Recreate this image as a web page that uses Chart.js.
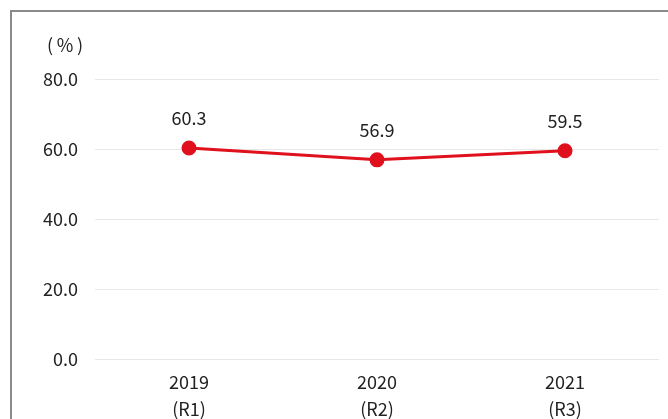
<!DOCTYPE html>
<html>
<head>
<meta charset="utf-8">
<script src="https://cdn.jsdelivr.net/npm/chart.js@4"></script>
<style>
  html, body { margin: 0; padding: 0; background: #fff; overflow: hidden; }
  #frame { position: absolute; left: 10px; top: 10px; width: 700px; height: 450px; border: 2px solid #8a8a8a; }
  #wrap { position: absolute; left: 0; top: 0; width: 668px; height: 419px; }
</style>
</head>
<body>
<div id="frame"></div>
<div id="wrap"><canvas id="chart"></canvas></div>
<script>
const years = ['2019', '2020', '2021'];
const eras = ['(R1)', '(R2)', '(R3)'];
const rates = [60.3, 56.9, 59.5];
const yTicks = [0, 20, 40, 60, 80];

const textColor = '#222';
const fontFamily = '"Noto Sans CJK JP", "Noto Sans", sans-serif';

// value labels above each point
const valueLabels = {
  id: 'valueLabels',
  afterDatasetsDraw(chart) {
    const ctx = chart.ctx;
    const meta = chart.getDatasetMeta(0);
    ctx.save();
    ctx.fillStyle = textColor;
    ctx.font = '18px ' + fontFamily;
    ctx.textAlign = 'center';
    ctx.textBaseline = 'middle';
    meta.data.forEach((pt, i) => {
      ctx.fillText(rates[i].toFixed(1), pt.x, pt.y - 30);
    });
    // unit label
    ctx.fillText('(\u2009%\u2009)', 65, 45);
    ctx.restore();
  }
};

new Chart(document.getElementById('chart'), {
  type: 'line',
  data: {
    labels: years.map((y, i) => [y, eras[i]]),
    datasets: [{
      data: rates,
      borderColor: '#e0101c',
      backgroundColor: '#e0101c',
      borderWidth: 3,
      pointRadius: 6,
      pointHoverRadius: 6,
      tension: 0
    }]
  },
  options: {
    responsive: true,
    maintainAspectRatio: false,
    animation: false,
    layout: { padding: { top: 79, right: 9, left: 0, bottom: 0 } },
    plugins: { legend: { display: false }, tooltip: { enabled: false } },
    scales: {
      x: {
        offset: true,
        grid: { display: false },
        border: { display: false },
        ticks: { color: textColor, font: { family: fontFamily, size: 18, lineHeight: 1.5 }, padding: 2 },
        afterFit: (scale) => { scale.height = 60; }
      },
      y: {
        min: 0,
        max: 80,
        afterBuildTicks: (scale) => { scale.ticks = yTicks.map(v => ({ value: v })); },
        grid: { color: '#e8e8e8', lineWidth: 1, drawTicks: false },
        border: { display: false },
        ticks: {
          color: textColor,
          font: { family: fontFamily, size: 18 },
          padding: 17,
          callback: (v) => Number(v).toFixed(1)
        },
        afterFit: (scale) => { scale.width = 95; }
      }
    }
  },
  plugins: [valueLabels]
});
</script>
</body>
</html>
